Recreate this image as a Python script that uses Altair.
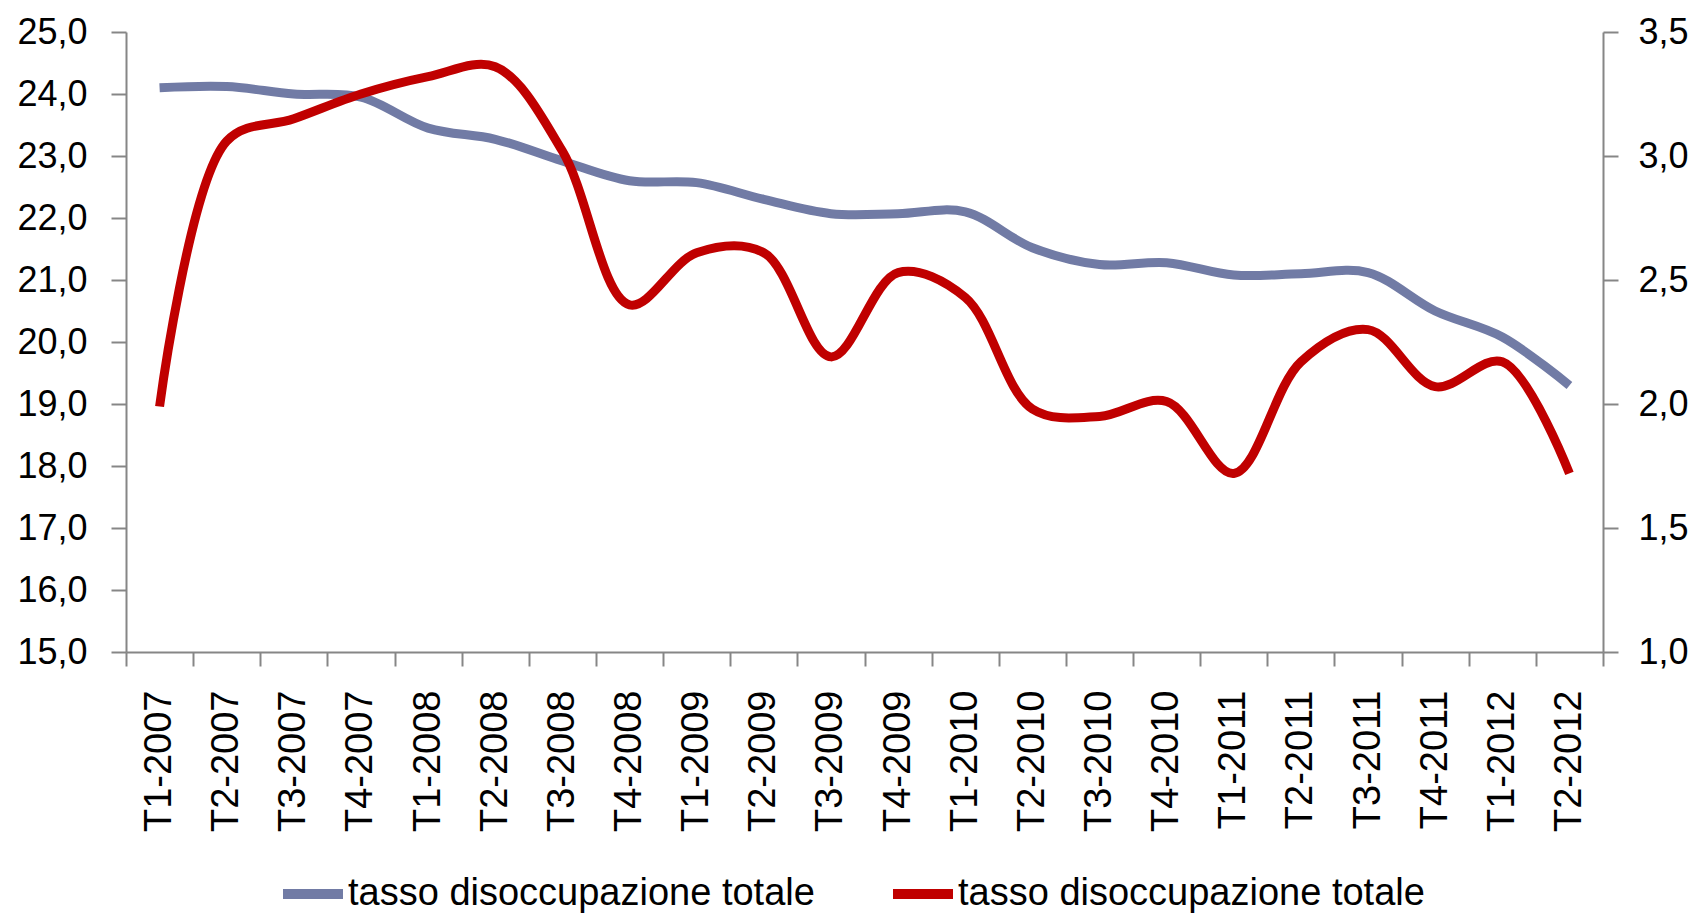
import altair as alt
import pandas as pd

quarters = ["T1-2007", "T2-2007", "T3-2007", "T4-2007", "T1-2008", "T2-2008",
            "T3-2008", "T4-2008", "T1-2009", "T2-2009", "T3-2009", "T4-2009",
            "T1-2010", "T2-2010", "T3-2010", "T4-2010", "T1-2011", "T2-2011",
            "T3-2011", "T4-2011", "T1-2012", "T2-2012"]

left_series = [24.1, 24.12, 24.0, 23.95, 23.45, 23.27, 22.92, 22.6, 22.57, 22.3,
               22.07, 22.07, 22.1, 21.52, 21.25, 21.28, 21.08, 21.1, 21.12, 20.5,
               20.08, 19.3]

right_series = [1.99, 3.06, 3.15, 3.25, 3.32, 3.36, 3.02, 2.40, 2.61, 2.61,
                2.19, 2.53, 2.43, 1.98, 1.95, 2.01, 1.72, 2.17, 2.30, 2.07,
                2.17, 1.72]

legend_label = "tasso disoccupazione totale"
left_ticks = [15, 16, 17, 18, 19, 20, 21, 22, 23, 24, 25]
right_ticks = [1.0, 1.5, 2.0, 2.5, 3.0, 3.5]

df_left = pd.DataFrame({"q": quarters, "v": left_series, "s": "a"})
df_right = pd.DataFrame({"q": quarters, "v": right_series, "s": "b"})

FONT = "Liberation Sans"
AX = "#868686"

x_enc = alt.X("q:N", sort=quarters,
              scale=alt.Scale(type="band", paddingInner=0, paddingOuter=0),
              axis=alt.Axis(title=None, labelAngle=270, labelFontSize=38,
                            labelPadding=24, tickBand="extent", tickSize=14,
                            labelFont=FONT, labelColor="#000000",
                            domainColor=AX, tickColor=AX, domainWidth=2,
                            tickWidth=2, labelBaseline="middle", labelAlign="right"))

color_enc = alt.Color("s:N",
                      scale=alt.Scale(domain=["a", "b"], range=["#717BA5", "#C00000"]),
                      legend=alt.Legend(title=None, orient="none", direction="horizontal",
                                        legendX=152, legendY=827, padding=0,
                                        labelExpr="'" + legend_label + "'",
                                        symbolType="stroke", symbolSize=3600,
                                        symbolStrokeWidth=10, labelFontSize=38,
                                        labelFont=FONT, labelColor="#000000",
                                        labelOffset=0, columnPadding=58,
                                        labelLimit=0))

y_label_expr = "replace(format(datum.value, '.1f'), '.', ',')"

left = alt.Chart(df_left).mark_line(strokeWidth=9, interpolate="catmull-rom").encode(
    x=x_enc,
    y=alt.Y("v:Q", scale=alt.Scale(domain=[15, 25], nice=False, zero=False),
            axis=alt.Axis(title=None, values=left_ticks, orient="left",
                          labelExpr=y_label_expr,
                          labelFontSize=36, labelFont=FONT, labelColor="#000000",
                          labelPadding=24, tickSize=15, grid=False,
                          domainColor=AX, tickColor=AX, domainWidth=2, tickWidth=2)),
    color=color_enc,
)

right = alt.Chart(df_right).mark_line(strokeWidth=9, interpolate="catmull-rom").encode(
    x=x_enc,
    y=alt.Y("v:Q", scale=alt.Scale(domain=[1.0, 3.5], nice=False, zero=False),
            axis=alt.Axis(title=None, values=right_ticks, orient="right",
                          labelExpr=y_label_expr,
                          labelFontSize=36, labelFont=FONT, labelColor="#000000",
                          labelPadding=20, tickSize=15, grid=False,
                          domainColor=AX, tickColor=AX, domainWidth=2, tickWidth=2)),
    color=color_enc,
)

chart = alt.layer(left, right).resolve_scale(y="independent").properties(
    width=1477, height=620,
    autosize=alt.AutoSizeParams(type="none"),
    padding={"left": 118, "top": 24, "right": 88, "bottom": 262},
).configure_view(stroke=None).configure_axis(grid=False)

chart.save("out.html", embed_options={"renderer": "svg", "actions": False})
